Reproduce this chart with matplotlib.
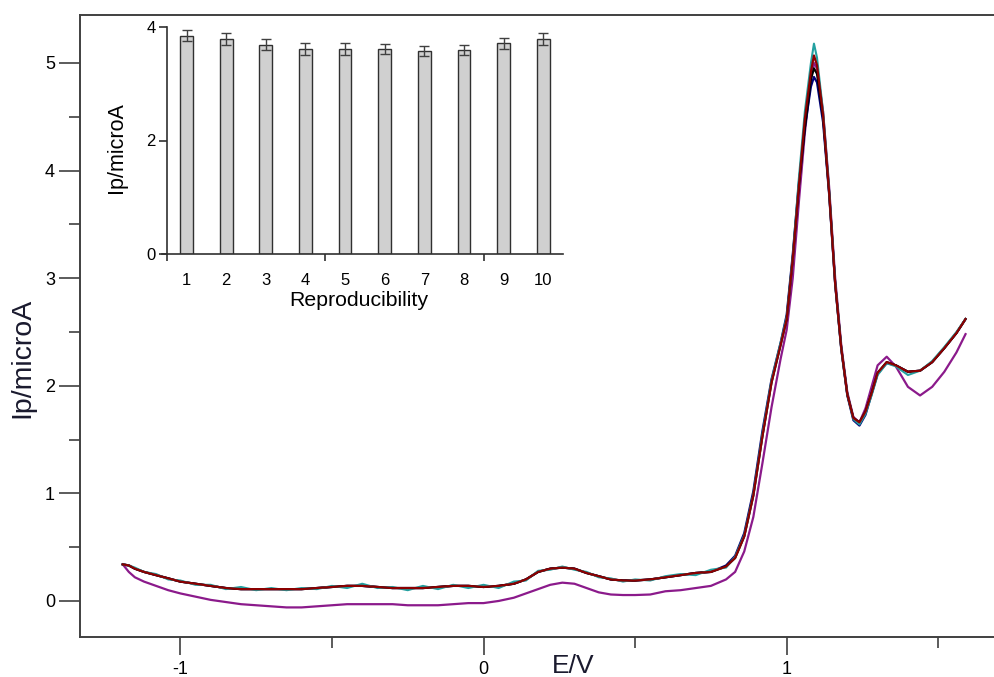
import numpy as np
import matplotlib
matplotlib.use('Agg')
import matplotlib.pyplot as plt

plt.rcParams['font.family'] = ['Liberation Sans', 'DejaVu Sans']

# ============================================================
# 데이터: 전위 (V) 와 전류 (microA)
# ============================================================
e_v = [-1.19, -1.17, -1.15, -1.12, -1.08, -1.04, -1.00, -0.95, -0.90, -0.85,
       -0.80, -0.75, -0.70, -0.65, -0.60, -0.55, -0.50, -0.45, -0.40, -0.35,
       -0.30, -0.25, -0.20, -0.15, -0.10, -0.05, 0.00, 0.05, 0.10, 0.14,
       0.18, 0.22, 0.26, 0.30, 0.34, 0.38, 0.42, 0.46, 0.50, 0.55,
       0.60, 0.65, 0.70, 0.75, 0.80, 0.83, 0.86, 0.89, 0.92, 0.95,
       0.98, 1.00, 1.02, 1.04, 1.06, 1.08, 1.09, 1.10, 1.12, 1.14,
       1.16, 1.18, 1.20, 1.22, 1.24, 1.26, 1.28, 1.30, 1.33, 1.36,
       1.40, 1.44, 1.48, 1.52, 1.56, 1.59]

ip_black = [0.34, 0.33, 0.30, 0.27, 0.24, 0.21, 0.18, 0.16, 0.14, 0.12,
            0.11, 0.11, 0.11, 0.11, 0.11, 0.12, 0.13, 0.14, 0.14, 0.13,
            0.12, 0.12, 0.12, 0.13, 0.14, 0.14, 0.13, 0.14, 0.16, 0.20,
            0.27, 0.30, 0.31, 0.30, 0.26, 0.23, 0.20, 0.19, 0.19, 0.20,
            0.22, 0.24, 0.26, 0.27, 0.32, 0.40, 0.60, 0.98, 1.53, 2.03,
            2.38, 2.62, 3.18, 3.85, 4.40, 4.85, 4.95, 4.90, 4.50, 3.80,
            2.95, 2.35, 1.92, 1.70, 1.66, 1.76, 1.93, 2.12, 2.22, 2.19,
            2.13, 2.14, 2.22, 2.35, 2.49, 2.62]

ip_navy = [0.34, 0.33, 0.30, 0.27, 0.24, 0.21, 0.18, 0.16, 0.14, 0.12,
           0.11, 0.11, 0.11, 0.11, 0.11, 0.12, 0.13, 0.14, 0.14, 0.13,
           0.12, 0.12, 0.12, 0.13, 0.14, 0.14, 0.13, 0.14, 0.16, 0.20,
           0.27, 0.30, 0.31, 0.30, 0.26, 0.23, 0.20, 0.19, 0.19, 0.20,
           0.22, 0.24, 0.26, 0.27, 0.33, 0.42, 0.63, 1.02, 1.58, 2.06,
           2.40, 2.66, 3.22, 3.88, 4.40, 4.78, 4.87, 4.82, 4.45, 3.78,
           2.94, 2.34, 1.91, 1.68, 1.63, 1.73, 1.92, 2.11, 2.21, 2.19,
           2.13, 2.14, 2.22, 2.35, 2.49, 2.62]

ip_teal = [0.34, 0.33, 0.31, 0.27, 0.25, 0.20, 0.19, 0.15, 0.15, 0.11,
           0.13, 0.10, 0.12, 0.10, 0.12, 0.11, 0.14, 0.12, 0.16, 0.12,
           0.13, 0.10, 0.14, 0.11, 0.15, 0.12, 0.15, 0.12, 0.18, 0.19,
           0.28, 0.29, 0.32, 0.29, 0.27, 0.22, 0.21, 0.18, 0.20, 0.19,
           0.23, 0.25, 0.24, 0.29, 0.31, 0.41, 0.61, 0.99, 1.55, 2.05,
           2.40, 2.64, 3.20, 3.92, 4.55, 5.00, 5.18, 5.05, 4.55, 3.82,
           2.96, 2.35, 1.92, 1.69, 1.64, 1.74, 1.91, 2.10, 2.21, 2.18,
           2.10, 2.14, 2.23, 2.36, 2.50, 2.62]

ip_red = [0.34, 0.33, 0.30, 0.27, 0.24, 0.21, 0.18, 0.16, 0.14, 0.12,
          0.11, 0.11, 0.11, 0.11, 0.11, 0.12, 0.13, 0.14, 0.14, 0.13,
          0.12, 0.12, 0.12, 0.13, 0.14, 0.14, 0.13, 0.14, 0.16, 0.20,
          0.27, 0.30, 0.31, 0.30, 0.26, 0.23, 0.20, 0.19, 0.19, 0.20,
          0.22, 0.24, 0.26, 0.27, 0.32, 0.40, 0.60, 0.98, 1.53, 2.03,
          2.38, 2.62, 3.18, 3.85, 4.48, 4.92, 5.07, 4.98, 4.52, 3.80,
          2.95, 2.35, 1.92, 1.70, 1.66, 1.76, 1.93, 2.12, 2.22, 2.19,
          2.13, 2.14, 2.22, 2.35, 2.49, 2.62]

ip_purple = [0.34, 0.27, 0.22, 0.18, 0.14, 0.10, 0.07, 0.04, 0.01, -0.01,
             -0.03, -0.04, -0.05, -0.06, -0.06, -0.05, -0.04, -0.03, -0.03, -0.03,
             -0.03, -0.04, -0.04, -0.04, -0.03, -0.02, -0.02, 0.00, 0.03, 0.07,
             0.11, 0.15, 0.17, 0.16, 0.12, 0.08, 0.06, 0.055, 0.055, 0.06,
             0.09, 0.10, 0.12, 0.14, 0.20, 0.27, 0.46, 0.78, 1.28, 1.80,
             2.25, 2.52, 3.00, 3.70, 4.35, 4.85, 5.00, 4.95, 4.55, 3.85,
             3.00, 2.38, 1.94, 1.71, 1.66, 1.79, 1.99, 2.19, 2.27, 2.18,
             1.99, 1.91, 1.99, 2.13, 2.31, 2.48]

# 재현성 막대 (inset)
rep_no = [1, 2, 3, 4, 5, 6, 7, 8, 9, 10]
rep_ip = [3.85, 3.79, 3.69, 3.61, 3.61, 3.61, 3.58, 3.59, 3.71, 3.79]
rep_err = [0.10, 0.10, 0.09, 0.10, 0.10, 0.09, 0.09, 0.09, 0.09, 0.10]

# ============================================================
# 메인 그래프
# ============================================================
fig = plt.figure(figsize=(9.95, 6.77), dpi=100)
ax = fig.add_axes([80/995, 40/677, 1.0 - 80/995 + 0.01, 622/677])

ax.plot(e_v, ip_purple, color='#8b1a8b', lw=1.6)
ax.plot(e_v, ip_navy, color='#00007a', lw=1.6)
ax.plot(e_v, ip_black, color='black', lw=1.6)
ax.plot(e_v, ip_teal, color='#23a0a0', lw=1.5)
ax.plot(e_v, ip_red, color='#8b0000', lw=1.6)

ax.set_xlim(-1.331, 1.72)
ax.set_ylim(-0.335, 5.446)

ax.set_xticks([-1, 0, 1])
ax.set_xticklabels(['-1', '0', '1'])
ax.set_xticks([-0.5, 0.5, 1.5], minor=True)
ax.set_yticks([0, 1, 2, 3, 4, 5])
ax.set_yticks([0.5, 1.5, 2.5, 3.5, 4.5], minor=True)

ax.tick_params(which='major', direction='out', length=15, width=1.2,
               color='#404040', labelsize=13, pad=3)
ax.tick_params(which='minor', direction='out', length=8, width=1.2,
               color='#404040')
ax.tick_params(axis='x', which='major', length=13, pad=4)

for side in ['left', 'bottom', 'top']:
    ax.spines[side].set_color('#404040')
    ax.spines[side].set_linewidth(1.4)
ax.spines['right'].set_visible(False)

ax.set_ylabel('Ip/microA', fontsize=20.5, color='#1a1a2e')
ax.yaxis.set_label_coords(-0.048, 0.449)
ax.text(0.533, -0.046, 'E/V', transform=ax.transAxes, fontsize=19,
        ha='center', va='center', color='#1a1a2e')

# ============================================================
# Inset: 재현성 막대 그래프
# ============================================================
axi = fig.add_axes([162/995, 1 - 254/677, (563 - 162)/995, 227/677])
axi.bar(rep_no, rep_ip, width=0.32, color='#d0d0d0', edgecolor='#303030',
        linewidth=1.0, zorder=2)
axi.errorbar(rep_no, rep_ip, yerr=rep_err, fmt='none', ecolor='#404040',
             elinewidth=1.0, capsize=3.5, capthick=1.0, zorder=3)

axi.set_xlim(0.38, 10.5)
axi.set_ylim(0, 4)
axi.spines['left'].set_position(('data', 0.5))
axi.spines['top'].set_visible(False)
axi.spines['right'].set_visible(False)
for side in ['left', 'bottom']:
    axi.spines[side].set_color('#303030')
    axi.spines[side].set_linewidth(1.2)

axi.set_yticks([0, 2, 4])
axi.set_xticks(rep_no)
axi.set_xticks([0.5, 4.5, 8.5], minor=True)
axi.tick_params(axis='x', which='major', length=0, labelsize=12, pad=14)
axi.tick_params(axis='x', which='minor', length=5, width=1.2, color='#303030')
axi.tick_params(axis='y', which='major', length=6, width=1.2, color='#303030',
                labelsize=12, pad=2)

axi.set_ylabel('Ip/microA', fontsize=15.5)
axi.yaxis.set_label_coords(-0.087, 0.47)
axi.set_xlabel('Reproducibility', fontsize=15.3)
axi.xaxis.set_label_coords(0.491, -0.165)
axi.patch.set_alpha(0)

fig.savefig('out.png', dpi=100, facecolor='white')
